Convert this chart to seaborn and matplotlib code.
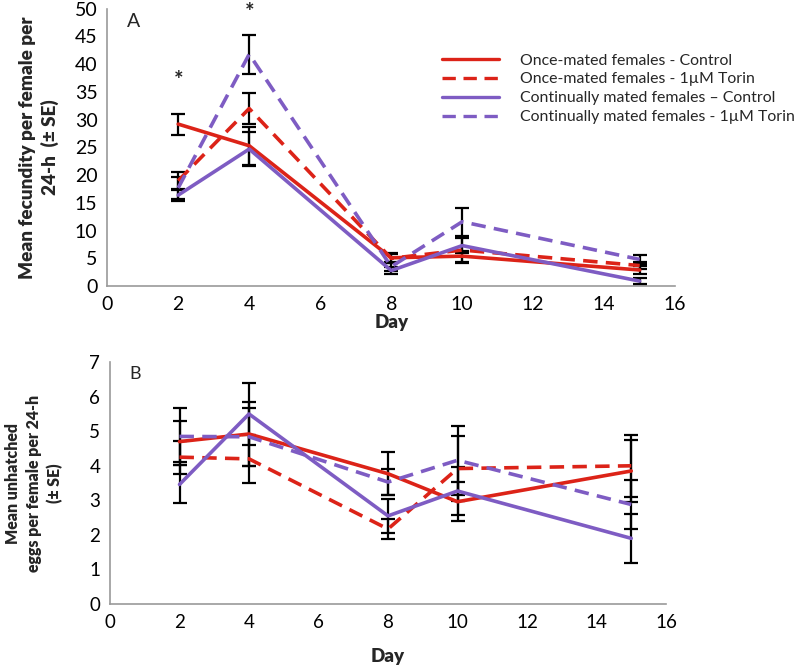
import numpy as np
import pandas as pd
import matplotlib
matplotlib.use("Agg")
import matplotlib.pyplot as plt
import seaborn as sns

# ------------------------------------------------------------
# Data
# ------------------------------------------------------------
days = [2, 4, 8, 10, 15]
groups = ["Once-mated females - Control",
          "Once-mated females - 1\u00b5M Torin",
          "Continually mated females \u2013 Control",
          "Continually mated females - 1\u00b5M Torin"]

# Panel A: mean fecundity per female per 24-h
fec_once_ctrl = [29.2, 25.3, 5.1, 5.4, 2.9]
fec_once_torin = [19.0, 32.0, 5.0, 6.5, 3.7]
fec_cont_ctrl = [16.4, 24.7, 2.8, 7.3, 0.9]
fec_cont_torin = [17.7, 41.8, 3.5, 11.6, 4.8]
se_fec_once_ctrl = [1.9, 3.4, 0.9, 1.0, 0.8]
se_fec_once_torin = [1.6, 2.8, 0.8, 2.3, 0.7]
se_fec_cont_ctrl = [1.1, 3.0, 0.7, 1.3, 0.5]
se_fec_cont_torin = [2.0, 3.5, 0.8, 2.5, 0.8]

# Panel B: mean unhatched eggs per female per 24-h
unh_once_ctrl = [4.70, 4.92, 3.77, 2.96, 3.85]
unh_once_torin = [4.25, 4.20, 2.17, 3.92, 4.00]
unh_cont_ctrl = [3.46, 5.50, 2.55, 3.27, 1.90]
unh_cont_torin = [4.85, 4.84, 3.53, 4.16, 2.88]
se_unh_once_ctrl = [0.60, 0.92, 0.62, 0.57, 0.90]
se_unh_once_torin = [0.48, 0.70, 0.30, 0.94, 0.90]
se_unh_cont_ctrl = [0.55, 0.90, 0.50, 0.70, 0.70]
se_unh_cont_torin = [0.83, 0.84, 0.37, 1.00, 0.72]

sig_days = [2, 4]
sig_y = [37.0, 49.3]

# ------------------------------------------------------------
# Build long tables
# ------------------------------------------------------------
def long_table(means, ses):
    rows = []
    for g, m, s in zip(groups, means, ses):
        for d, v, e in zip(days, m, s):
            rows.append({"Day": d, "value": v, "se": e, "group": g})
    return pd.DataFrame(rows)

df_a = long_table([fec_once_ctrl, fec_once_torin, fec_cont_ctrl, fec_cont_torin],
                  [se_fec_once_ctrl, se_fec_once_torin, se_fec_cont_ctrl, se_fec_cont_torin])
df_b = long_table([unh_once_ctrl, unh_once_torin, unh_cont_ctrl, unh_cont_torin],
                  [se_unh_once_ctrl, se_unh_once_torin, se_unh_cont_ctrl, se_unh_cont_torin])

red = "#DC2318"
purple = "#7E5CC3"
palette = {groups[0]: red, groups[1]: red, groups[2]: purple, groups[3]: purple}
dashes = {groups[0]: "", groups[1]: (4, 2.3), groups[2]: "", groups[3]: (4, 2.3)}

sns.set_style("white")
plt.rcParams["font.family"] = ["Lato", "DejaVu Sans"]

fig = plt.figure(figsize=(8, 6.7), dpi=100)
ax_a = fig.add_axes([0.134, 0.573, 0.71, 0.414])
ax_b = fig.add_axes([0.1375, 0.0985, 0.695, 0.361])


def draw_panel(ax, df, tick_size):
    # error bars first so lines sit on top
    for g in groups:
        sub = df[df["group"] == g]
        ax.errorbar(sub["Day"], sub["value"], yerr=sub["se"], fmt="none",
                    ecolor="black", elinewidth=1.6, capsize=5, capthick=1.6,
                    zorder=3)
    sns.lineplot(data=df, x="Day", y="value", hue="group", style="group",
                 hue_order=groups, style_order=groups, palette=palette,
                 dashes=dashes, linewidth=2.6, ax=ax, zorder=4, legend=True)
    ax.set_xlim(0, 16)
    ax.set_xticks(range(0, 17, 2))
    for s in ["top", "right"]:
        ax.spines[s].set_visible(False)
    for s in ["left", "bottom"]:
        ax.spines[s].set_color("#9a9a9a")
        ax.spines[s].set_linewidth(1.2)
    ax.tick_params(axis="both", direction="out", length=5, width=1.2, pad=2,
                   color="#9a9a9a", labelsize=tick_size, labelcolor="black")
    ax.set_xlabel("Day", fontsize=13.5, fontweight="heavy")


draw_panel(ax_a, df_a, 14)
ax_a.set_ylim(0, 50)
ax_a.set_yticks(range(0, 51, 5))
ax_a.set_ylabel("Mean fecundity per female per\n24-h  (\u00b1 SE)",
                fontsize=13.6, fontweight="heavy", linespacing=1.3)
ax_a.text(0.035, 0.985, "A", transform=ax_a.transAxes, fontsize=14,
          va="top", ha="left")
for d, y in zip(sig_days, sig_y):
    ax_a.text(d, y, "*", fontsize=16, fontweight="bold", ha="center",
              va="center", clip_on=False)
leg = ax_a.legend(loc="upper left", bbox_to_anchor=(0.565, 0.89), frameon=False,
                  fontsize=11.4, handlelength=3.6, handletextpad=1.3,
                  labelspacing=0.3)
for line in leg.get_lines():
    line.set_linewidth(2.4)

draw_panel(ax_b, df_b, 13.5)
ax_b.legend_.remove()
ax_b.set_ylim(0, 7)
ax_b.set_yticks(range(0, 8))
ax_b.set_ylabel("Mean unhatched\neggs per female per 24-h\n(\u00b1 SE)",
                fontsize=11.4, fontweight="heavy", linespacing=1.35)
ax_b.text(0.035, 0.985, "B", transform=ax_b.transAxes, fontsize=13,
          va="top", ha="left")

ax_a.xaxis.set_label_coords(0.5, -0.1)
ax_b.xaxis.set_label_coords(0.5, -0.18)
ax_a.yaxis.set_label_coords(-0.085, 0.5)
ax_b.yaxis.set_label_coords(-0.085, 0.5)

fig.savefig("out.png", dpi=100)
